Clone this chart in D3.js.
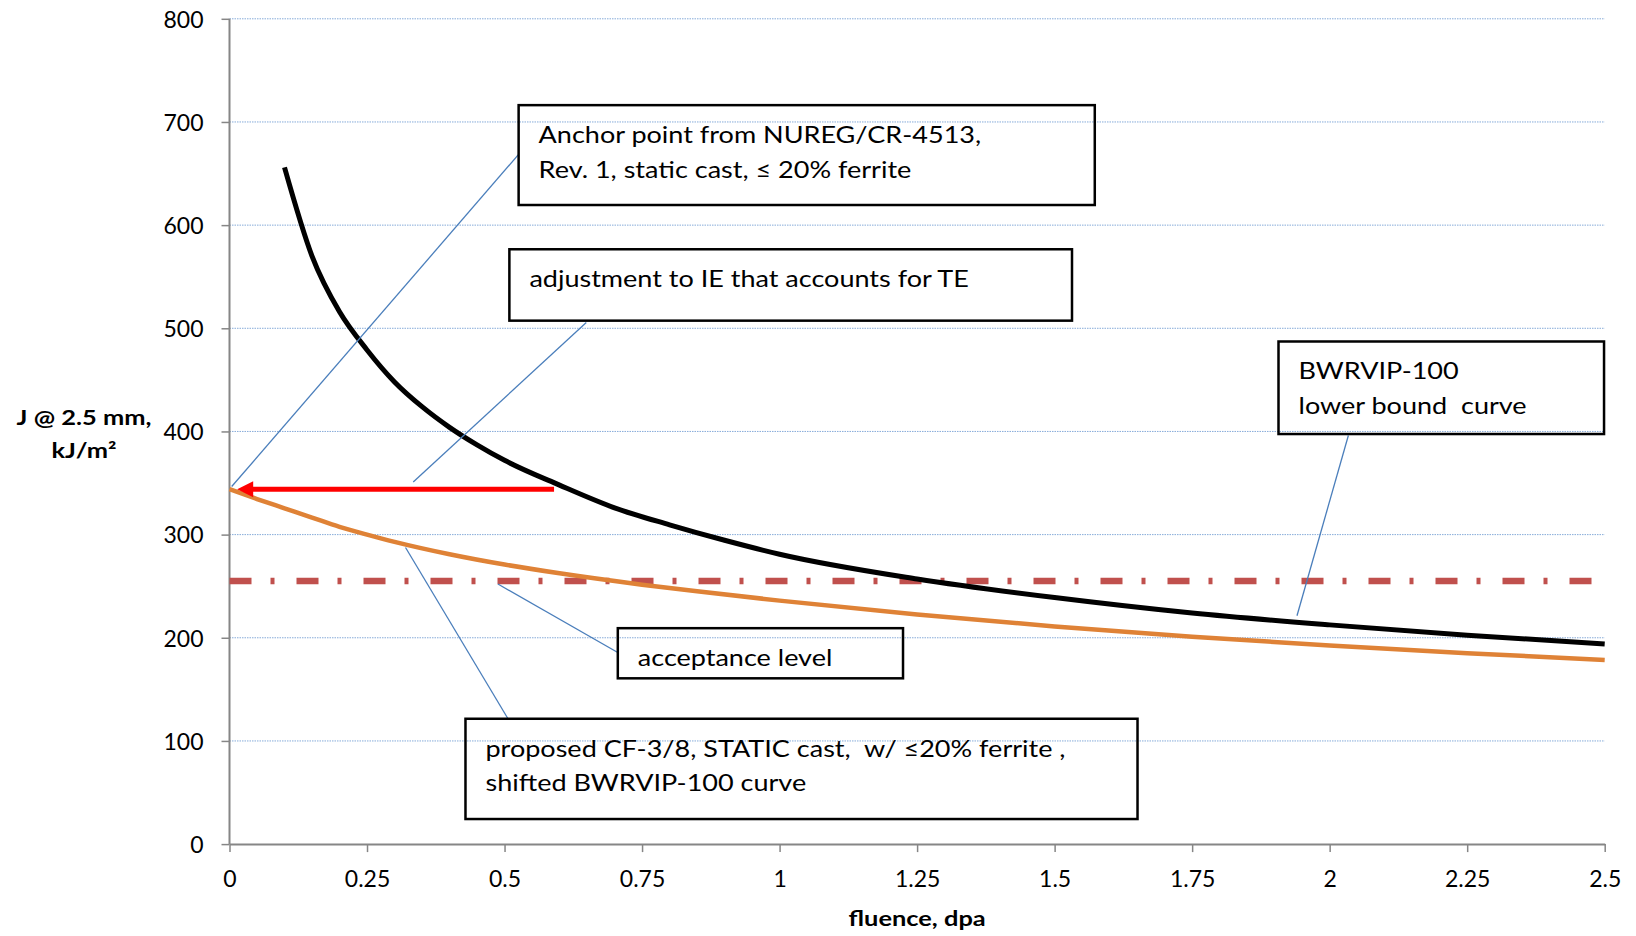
<!DOCTYPE html>
<html>
<head>
<meta charset="utf-8">
<script src="https://cdn.jsdelivr.net/npm/d3@7"></script>
<style>
  body { margin: 0; background: #fff; }
  text { font-family: Lato, 'Open Sans', sans-serif; fill: #000; }
</style>
</head>
<body>
<svg id="chart"></svg>
<script>
// BWRVIP-100 lower bound curve
var fluenceBwr = [0.1, 0.15, 0.2, 0.25, 0.3, 0.35, 0.4, 0.45, 0.5, 0.6, 0.7, 0.8, 0.9, 1.0, 1.25, 1.5, 1.75, 2.0, 2.25, 2.5];
var jBwr = [656, 570, 516, 479, 448, 424, 404, 387, 372, 348, 326, 309.5, 294.5, 281, 257, 239, 224, 212.5, 202.5, 194];

// proposed CF-3/8 static cast curve (shifted BWRVIP-100)
var fluenceShifted = [0, 0.05, 0.1, 0.15, 0.2, 0.25, 0.3, 0.4, 0.5, 0.6, 0.75, 0.85, 1.0, 1.25, 1.5, 1.75, 2.0, 2.25, 2.5];
var jShifted = [344, 334.5, 325.5, 316.5, 307.5, 300, 293, 281, 271, 262.5, 251.5, 245, 236, 222.5, 211, 201, 192.5, 185, 178.5];

var acceptanceJ = 255;
var anchorJ = 344;
var arrowFrom = 0.59, arrowTo = 0.014;

var xTicks = [0, 0.25, 0.5, 0.75, 1, 1.25, 1.5, 1.75, 2, 2.25, 2.5];
var yTicks = [0, 100, 200, 300, 400, 500, 600, 700, 800];

// annotation boxes, in data units: [x0, x1, jTop, jBottom]
var noteText = [
  ['Anchor point from NUREG/CR-4513,', 'Rev. 1, static cast, \u2264 20% ferrite'],
  ['adjustment to IE that accounts for TE'],
  ['BWRVIP-100', 'lower bound  curve'],
  ['acceptance level'],
  ['proposed CF-3/8, STATIC cast,  w/ \u226420% ferrite ,', 'shifted BWRVIP-100 curve']
];
var noteBox = [
  [0.5256, 1.573, 716.3, 619.5],
  [0.5088, 1.5316, 576.6, 507.4],
  [1.907, 2.4988, 487.2, 397.5],
  [0.7059, 1.2244, 209.3, 160.7],
  [0.429, 1.6507, 121.5, 24.3]
];
// leader lines: [x from, j from, x to, j to]
var noteLeader = [
  [0.5256, 668.6, 0.004, 346.6],
  [0.6486, 505.6, 0.334, 351],
  [2.034, 396.1, 1.9406, 221.4],
  [0.7059, 185.7, 0.488, 252.1],
  [0.5063, 121.5, 0.32, 287.5]
];

var width = 1636, height = 936;
var margin = {left: 229.5, right: 31.3, top: 18.8, bottom: 91.9};
// the source picture is wider than its text metrics suggest
var noteStretch = 1.15, titleStretch = 1.21;

var svg = d3.select('#chart')
  .attr('width', width)
  .attr('height', height);

var x = d3.scaleLinear().domain([0, 2.5]).range([margin.left, width - margin.right]);
var y = d3.scaleLinear().domain([0, 800]).range([height - margin.bottom, margin.top]);

// gridlines
svg.append('g')
  .selectAll('line')
  .data(yTicks.slice(1))
  .enter().append('line')
  .attr('x1', x(0)).attr('x2', x(2.5))
  .attr('y1', function(d) { return y(d); })
  .attr('y2', function(d) { return y(d); })
  .attr('stroke', '#86ABD9')
  .attr('stroke-width', 1)
  .attr('stroke-dasharray', '1.5,1');

// axes
var yAxis = svg.append('g')
  .attr('transform', 'translate(' + x(0) + ',0)')
  .call(d3.axisLeft(y).tickValues(yTicks).tickSize(8).tickPadding(18).tickFormat(function(d) { return String(d); }));
var xAxis = svg.append('g')
  .attr('transform', 'translate(0,' + y(0) + ')')
  .call(d3.axisBottom(x).tickValues(xTicks).tickSize(8).tickSizeOuter(0).tickFormat(function(d) { return String(d); }));

[yAxis, xAxis].forEach(function(ax) {
  ax.select('.domain').attr('stroke', '#868686').attr('stroke-width', 2);
  ax.selectAll('.tick line').attr('stroke', '#868686').attr('stroke-width', 1.5);
  ax.selectAll('.tick text').attr('font-size', 23).attr('fill', '#000')
    .style('font-family', 'Lato, sans-serif');
});
yAxis.select('.domain').attr('d', 'M0,' + y(800) + 'V' + y(0));
xAxis.selectAll('.tick text').attr('dy', null).attr('y', 42.6);
yAxis.selectAll('.tick text').attr('dy', '0.36em');

// axis titles
svg.append('g')
  .attr('transform', 'translate(' + ((x(0) + x(2.5)) / 2) + ',926) scale(' + titleStretch + ',1)')
  .append('text')
  .attr('text-anchor', 'middle')
  .attr('font-size', 21).attr('font-weight', 'bold')
  .text('fluence, dpa');

var yTitle = svg.append('g')
  .attr('transform', 'translate(84,0) scale(' + titleStretch + ',1)')
  .append('text')
  .attr('text-anchor', 'middle')
  .attr('font-size', 21).attr('font-weight', 'bold');
yTitle.append('tspan').attr('x', 0).attr('y', 425).text('J @ 2.5 mm,');
yTitle.append('tspan').attr('x', 0).attr('y', 458).text('kJ/m\u00b2');

// acceptance level
svg.append('line')
  .attr('x1', x(0)).attr('x2', x(2.5))
  .attr('y1', y(acceptanceJ)).attr('y2', y(acceptanceJ))
  .attr('stroke', '#C0504D')
  .attr('stroke-width', 6.5)
  .attr('stroke-dasharray', '22,19,4,22');

var line = d3.line()
  .x(function(d) { return x(d[0]); })
  .y(function(d) { return y(d[1]); })
  .curve(d3.curveMonotoneX);

svg.append('path')
  .datum(d3.zip(fluenceShifted, jShifted))
  .attr('fill', 'none')
  .attr('stroke', '#DF8236')
  .attr('stroke-width', 4.5)
  .attr('d', line);

svg.append('path')
  .datum(d3.zip(fluenceBwr, jBwr))
  .attr('fill', 'none')
  .attr('stroke', '#000')
  .attr('stroke-width', 5)
  .attr('stroke-linejoin', 'round')
  .attr('d', line);

// red arrow back to the anchor point
var ay = y(anchorJ);
var tipX = x(arrowTo);
svg.append('line')
  .attr('x1', x(arrowFrom)).attr('x2', tipX + 14)
  .attr('y1', ay).attr('y2', ay)
  .attr('stroke', '#FF0000')
  .attr('stroke-width', 5);
svg.append('path')
  .attr('d', 'M' + tipX + ',' + ay + 'L' + (tipX + 16) + ',' + (ay - 8) + 'L' + (tipX + 16) + ',' + (ay + 8) + 'Z')
  .attr('fill', '#FF0000');

// leader lines
svg.append('g')
  .selectAll('line')
  .data(noteLeader)
  .enter().append('line')
  .attr('x1', function(d) { return x(d[0]); })
  .attr('y1', function(d) { return y(d[1]); })
  .attr('x2', function(d) { return x(d[2]); })
  .attr('y2', function(d) { return y(d[3]); })
  .attr('stroke', '#4A7EBB')
  .attr('stroke-width', 1.3);

// annotation boxes
noteBox.forEach(function(b, i) {
  var g = svg.append('g');
  g.append('rect')
    .attr('x', x(b[0])).attr('y', y(b[2]))
    .attr('width', x(b[1]) - x(b[0]))
    .attr('height', y(b[3]) - y(b[2]))
    .attr('fill', 'none')
    .attr('stroke', '#000')
    .attr('stroke-width', 2.5);
  var t = g.append('g')
    .attr('transform', 'translate(' + (x(b[0]) + 20) + ',' + y(b[2]) + ') scale(' + noteStretch + ',1)')
    .append('text')
    .attr('font-size', 23.5);
  noteText[i].forEach(function(s, k) {
    t.append('tspan')
      .attr('x', 0)
      .attr('y', 38 + k * 34.5)
      .attr('xml:space', 'preserve')
      .text(s);
  });
});
</script>
</body>
</html>
